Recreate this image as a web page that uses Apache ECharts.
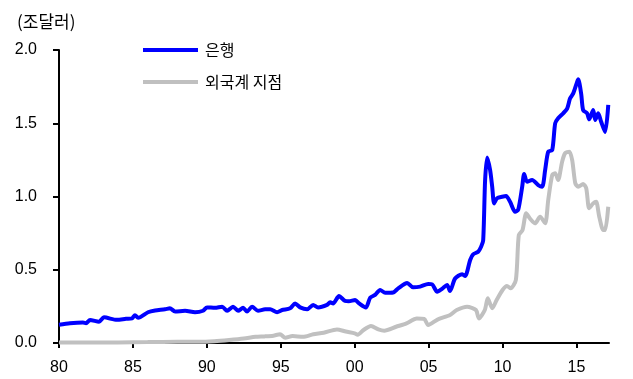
<!DOCTYPE html>
<html>
<head>
<meta charset="utf-8">
<script src="https://cdn.jsdelivr.net/npm/echarts@6/dist/echarts.min.js"></script>
<style>
  html, body { margin: 0; padding: 0; background: #fff; }
  #chart { width: 633px; height: 379px; }
</style>
</head>
<body>
<div id="chart"></div>
<script>
// Units: trillion US dollars (조달러)
const unitLabel = '(조달러)';
const seriesNames = ['은행', '외국계 지점'];

// X positions are fractional years
const xTickYears = [1980, 1985, 1990, 1995, 2000, 2005, 2010, 2015];
const yTicks = [0, 0.5, 1.0, 1.5, 2.0];

// 은행 (banks)
const bankYears = [
  1980.00, 1980.74, 1981.62, 1981.83, 1982.10, 1982.71, 1983.04, 1983.92, 1984.53, 1984.94,
  1985.14, 1985.35, 1986.02, 1986.50, 1987.17, 1987.50, 1987.85, 1988.53, 1989.20, 1989.74,
  1990.01, 1990.55, 1991.03, 1991.37, 1991.77, 1992.11, 1992.45, 1992.72, 1993.06, 1993.46,
  1993.94, 1994.28, 1994.75, 1995.09, 1995.63, 1995.97, 1996.31, 1996.78, 1997.19, 1997.52,
  1998.13, 1998.34, 1998.54, 1998.94, 1999.35, 1999.60, 2000.03, 2000.30, 2000.75, 2001.05,
  2001.38, 2001.72, 2002.06, 2002.60, 2002.94, 2003.55, 2003.95, 2004.43, 2004.97, 2005.24,
  2005.58, 2005.91, 2006.25, 2006.45, 2006.79, 2007.27, 2007.47, 2007.81, 2008.01, 2008.35,
  2008.55, 2008.69, 2008.82, 2008.96, 2009.16, 2009.30, 2009.43, 2009.63, 2009.97, 2010.24,
  2010.51, 2010.85, 2011.06, 2011.33, 2011.46, 2011.66, 2012.00, 2012.41, 2012.68, 2012.88,
  2013.09, 2013.36, 2013.56, 2013.76, 2014.10, 2014.37, 2014.57, 2014.78, 2015.05, 2015.12,
  2015.32, 2015.45, 2015.72, 2015.86, 2016.13, 2016.27, 2016.47, 2016.67, 2016.94, 2017.15
];
const bankValues = [
  0.125, 0.135, 0.140, 0.135, 0.157, 0.145, 0.175, 0.158, 0.165, 0.168,
  0.190, 0.172, 0.210, 0.222, 0.230, 0.237, 0.215, 0.220, 0.210, 0.220,
  0.243, 0.240, 0.248, 0.220, 0.248, 0.220, 0.240, 0.215, 0.248, 0.220,
  0.230, 0.230, 0.210, 0.225, 0.237, 0.270, 0.243, 0.230, 0.260, 0.243,
  0.260, 0.278, 0.270, 0.320, 0.287, 0.285, 0.293, 0.270, 0.242, 0.310,
  0.328, 0.362, 0.343, 0.345, 0.373, 0.410, 0.380, 0.385, 0.403, 0.400,
  0.350, 0.370, 0.396, 0.355, 0.440, 0.470, 0.457, 0.567, 0.605, 0.623,
  0.657, 0.700, 1.110, 1.267, 1.180, 1.067, 0.953, 0.988, 0.998, 1.003,
  0.964, 0.896, 0.910, 1.067, 1.154, 1.100, 1.113, 1.078, 1.067, 1.180,
  1.306, 1.317, 1.500, 1.534, 1.568, 1.600, 1.670, 1.704, 1.784, 1.800,
  1.700, 1.590, 1.568, 1.527, 1.590, 1.522, 1.568, 1.510, 1.440, 1.625
];

// 외국계 지점 (foreign bank branches)
const branchYears = [
  1980.0, 1982.0, 1984.0, 1986.0, 1988.0, 1989.5, 1990.5, 1991.5, 1992.5, 1993.3,
  1993.9, 1994.5, 1994.95, 1995.3, 1995.8, 1996.5, 1997.2, 1997.9, 1998.8, 1999.4,
  2000.0, 2000.2, 2000.6, 2001.1, 2001.6, 2002.0, 2002.8, 2003.5, 2004.2, 2004.7,
  2004.97, 2005.6, 2006.45, 2006.9, 2007.6, 2008.2, 2008.4, 2008.8, 2009.0, 2009.3,
  2009.6, 2010.0, 2010.3, 2010.55, 2010.9, 2011.1, 2011.35, 2011.6, 2011.85, 2012.2,
  2012.54, 2012.88, 2013.09, 2013.36, 2013.56, 2013.76, 2014.03, 2014.23, 2014.51, 2014.71,
  2014.92, 2015.12, 2015.45, 2015.66, 2015.86, 2016.13, 2016.33, 2016.54, 2016.81, 2016.94,
  2017.15
];
const branchValues = [
  0.003, 0.003, 0.004, 0.006, 0.008, 0.008, 0.012, 0.020, 0.030, 0.042,
  0.045, 0.050, 0.060, 0.035, 0.048, 0.042, 0.060, 0.070, 0.093, 0.078,
  0.066, 0.057, 0.089, 0.116, 0.093, 0.084, 0.111, 0.134, 0.168, 0.165,
  0.123, 0.160, 0.191, 0.225, 0.248, 0.225, 0.168, 0.225, 0.305, 0.237,
  0.293, 0.362, 0.389, 0.373, 0.430, 0.737, 0.771, 0.885, 0.850, 0.817,
  0.862, 0.817, 0.976, 1.147, 1.158, 1.113, 1.238, 1.295, 1.306, 1.249,
  1.090, 1.067, 1.085, 1.056, 0.920, 0.953, 0.964, 0.862, 0.771, 0.771,
  0.930
];

const pairs = (xs, ys) => xs.map((x, i) => [x, ys[i]]);
const latin = 'Liberation Sans, Arial, sans-serif';
const hangul = 'Noto Sans CJK KR, sans-serif';

const chart = echarts.init(document.getElementById('chart'), null, { renderer: 'canvas' });
chart.setOption({
  animation: false,
  backgroundColor: '#ffffff',
  title: {
    text: unitLabel,
    left: 12, top: 8,
    textStyle: { fontFamily: hangul, fontSize: 17, fontWeight: 'normal', color: '#000' }
  },
  legend: [
    {
      data: [seriesNames[0]],
      left: 138, top: 36,
      icon: 'rect', itemWidth: 55, itemHeight: 4, itemGap: 0,
      textStyle: { fontFamily: hangul, fontSize: 16, color: '#000', padding: [0, 0, 0, 2], lineHeight: 18 }
    },
    {
      data: [seriesNames[1]],
      left: 138, top: 68,
      icon: 'rect', itemWidth: 55, itemHeight: 4, itemGap: 0,
      textStyle: { fontFamily: hangul, fontSize: 16, color: '#000', padding: [0, 0, 0, 2], lineHeight: 18 }
    }
  ],
  grid: { left: 59, right: 24, top: 50, bottom: 36 },
  xAxis: {
    type: 'value',
    min: 1980, max: 2017.2, interval: 5,
    splitLine: { show: false },
    axisLine: { lineStyle: { color: '#000', width: 2 } },
    axisTick: { length: 5, lineStyle: { color: '#000', width: 2 }, customValues: xTickYears },
    axisLabel: {
      customValues: xTickYears,
      margin: 17,
      fontFamily: latin, fontSize: 16, color: '#000',
      formatter: v => String(Math.round(v) % 100).padStart(2, '0')
    }
  },
  yAxis: {
    type: 'value',
    min: 0, max: 2, interval: 0.5,
    splitLine: { show: false },
    axisLine: { show: true, lineStyle: { color: '#000', width: 2 } },
    axisTick: { show: true, length: 6, lineStyle: { color: '#000', width: 2 } },
    axisLabel: {
      margin: 22,
      fontFamily: latin, fontSize: 16, color: '#000',
      formatter: v => v.toFixed(1)
    }
  },
  series: [
    {
      name: seriesNames[0], type: 'line',
      data: pairs(bankYears, bankValues),
      showSymbol: false, smooth: 0.25, z: 3,
      lineStyle: { color: '#0000ff', width: 4 },
      itemStyle: { color: '#0000ff' }
    },
    {
      name: seriesNames[1], type: 'line',
      data: pairs(branchYears, branchValues),
      showSymbol: false, smooth: 0.25, z: 2,
      lineStyle: { color: '#c0c0c0', width: 4 },
      itemStyle: { color: '#c0c0c0' }
    }
  ]
});
</script>
</body>
</html>
